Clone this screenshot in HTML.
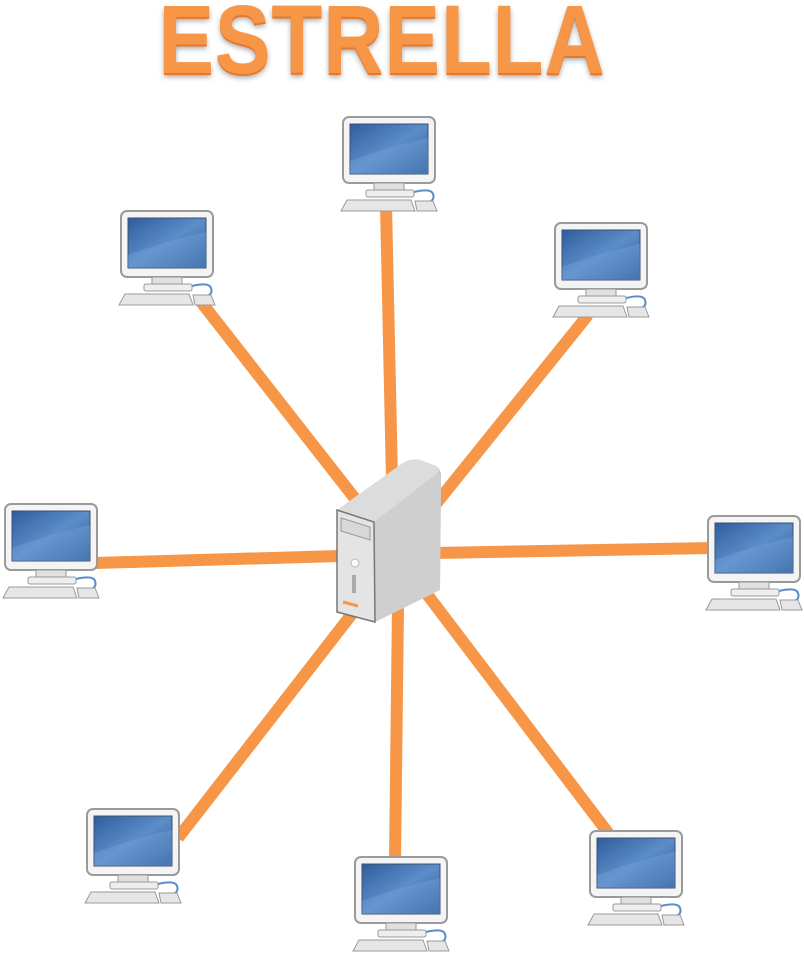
<!DOCTYPE html>
<html><head><style>
html,body{margin:0;padding:0;background:#fff;width:804px;height:955px;overflow:hidden}
.t{position:absolute;left:0;top:-16px;width:764px;text-align:center;font:bold 97px "Liberation Sans",sans-serif;color:#f79646;transform:scaleX(0.86);transform-origin:382px 0;
text-shadow:0 2px 0 #e8772a,0 4px 6px rgba(0,0,0,.35);letter-spacing:1px}
svg{position:absolute;left:0;top:0}
</style></head><body>
<div class="t">ESTRELLA</div>
<svg width="804" height="955" viewBox="0 0 804 955">
<defs>
<linearGradient id="scr" x1="0" y1="0" x2="1" y2="1"><stop offset="0" stop-color="#2f5d9c"/><stop offset=".5" stop-color="#5b8dc9"/><stop offset="1" stop-color="#2b5a98"/></linearGradient>
<linearGradient id="srv" x1="0" y1="0" x2="1" y2="0"><stop offset="0" stop-color="#e8e8e8"/><stop offset="1" stop-color="#c9c9c9"/></linearGradient>
<g id="pc">
<rect x="2" y="1" width="92" height="66" rx="6" fill="#f4f4f4" stroke="#9a9a9a" stroke-width="2"/>
<rect x="9" y="8" width="78" height="50" fill="url(#scr)" stroke="#3a4f70" stroke-width="1"/>
<path d="M9 45 Q50 30 87 22 L87 58 L9 58Z" fill="#7aa7dc" opacity=".35"/>
<rect x="33" y="67" width="30" height="8" fill="#e0e0e0" stroke="#999"/>
<rect x="25" y="74" width="48" height="7" rx="2" fill="#eee" stroke="#999"/>
<path d="M73 76 Q90 72 92 78 Q94 84 88 86" fill="none" stroke="#5b8dc9" stroke-width="2"/>
<path d="M6 84 L70 84 L74 95 L0 95Z" fill="#e6e6e6" stroke="#999"/>
<path d="M74 85 L92 85 L96 95 L76 95Z" fill="#e6e6e6" stroke="#999"/>
</g>
</defs>
<g stroke="#f79646" stroke-width="12" stroke-linecap="butt">
<line x1="386" y1="205" x2="392" y2="480"/>
<line x1="198" y1="298" x2="360" y2="505"/>
<line x1="588" y1="315" x2="435" y2="505"/>
<line x1="95" y1="563" x2="340" y2="556"/>
<line x1="712" y1="548" x2="435" y2="553"/>
<line x1="178" y1="838" x2="355" y2="610"/>
<line x1="395" y1="862" x2="398" y2="605"/>
<line x1="612" y1="838" x2="420" y2="585"/>
</g>
<use href="#pc" x="341" y="116"/>
<use href="#pc" x="119" y="210"/>
<use href="#pc" x="553" y="222"/>
<use href="#pc" x="3" y="503"/>
<use href="#pc" x="706" y="515"/>
<use href="#pc" x="85" y="808"/>
<use href="#pc" x="353" y="856"/>
<use href="#pc" x="588" y="830"/>
<path d="M337 510 L403 463 Q412 458 420 460 L436 466 Q442 470 441 478 L440 590 L375 622 L337 612Z" fill="url(#srv)"/>
<path d="M337 510 L403 463 Q412 458 420 460 L436 466 Q442 470 434 476 L374 522Z" fill="#dcdcdc"/>
<path d="M374 522 L434 476 Q441 472 441 480 L440 590 L375 622Z" fill="#cfcfcf"/>
<path d="M337 510 L374 522 L375 622 L337 612Z" fill="#e4e4e4" stroke="#777" stroke-width="1.5"/>
<path d="M341 518 L370 527 L370 540 L341 531Z" fill="#d8d8d8" stroke="#999"/>
<circle cx="355" cy="563" r="4" fill="#fafafa" stroke="#bbb"/>
<rect x="352" y="575" width="4" height="18" fill="#aaa"/>
<path d="M343 602 L358 606" stroke="#f79646" stroke-width="3"/>
</svg>
</body></html>
